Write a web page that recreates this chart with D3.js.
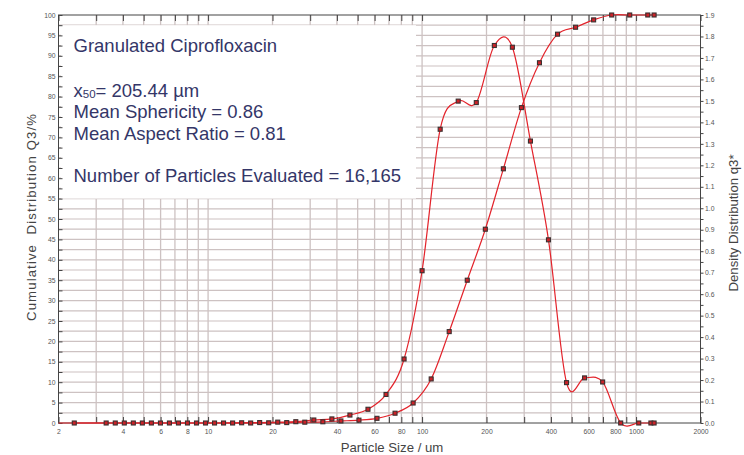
<!DOCTYPE html>
<html><head><meta charset="utf-8">
<script src="https://cdn.jsdelivr.net/npm/d3@7"></script>
<style>
html,body{margin:0;padding:0;background:#fff;}
svg{display:block;font-family:"Liberation Sans",Arial,Helvetica,sans-serif;}
</style></head>
<body>
<svg id="chart" width="744" height="455"></svg>
<script>
// ---- data (sizes in µm) ----
const cumSizes = [2.37, 3.34, 4.06, 4.93, 5.99, 7.27, 8.83, 10.72, 13.02, 15.81, 19.20, 23.31, 28.31, 34.38, 41.75, 50.70, 61.56, 74.76, 90.81, 110.3, 133.9, 162.6, 197.5, 239.8, 291.2, 353.6, 429.5, 521.5, 633.3, 769.1, 933.9, 1134, 1214];
const cumQ3 = [0, 0, 0, 0, 0, 0, 0, 0, 0, 0, 0.05, 0.1, 0.2, 0.3, 0.5, 0.7, 1.15, 2.4, 4.9, 10.8, 22.4, 35.0, 47.5, 62.3, 77.3, 88.3, 95.3, 97.0, 98.8, 100, 100, 100, 100];

const densSizes = [2.0, 3.684, 4.474, 5.433, 6.597, 8.012, 9.728, 11.81, 14.35, 17.42, 21.16, 25.70, 31.20, 37.89, 46.01, 55.87, 67.84, 82.39, 100.0, 121.5, 147.5, 179.2, 217.6, 264.2, 320.9, 389.6, 473.2, 574.6, 697.9, 847.5, 1029, 1173, 1214];
const densQ3 = [0, 0, 0, 0, 0, 0, 0, 0, 0.001, 0.002, 0.004, 0.006, 0.014, 0.019, 0.037, 0.064, 0.133, 0.298, 0.709, 1.368, 1.499, 1.492, 1.758, 1.750, 1.313, 0.853, 0.188, 0.210, 0.191, 0, 0, 0, 0];

const xTickLabels = [2, 4, 6, 8, 10, 20, 40, 60, 80, 100, 200, 400, 600, 800, 1000, 2000];
const xMajorTicks = [2,3,4,5,6,7,8,9,10,20,30,40,50,60,70,80,90,100,200,300,400,500,600,700,800,900,1000,2000];
const leftTicks = [0,5,10,15,20,25,30,35,40,45,50,55,60,65,70,75,80,85,90,95,100];
const leftMinor = [2.5,7.5,12.5,17.5,22.5,27.5,32.5,37.5,42.5,47.5,52.5,57.5,62.5,67.5,72.5,77.5,82.5,87.5,92.5,97.5];
const rightTicks = [0,0.1,0.2,0.3,0.4,0.5,0.6,0.7,0.8,0.9,1.0,1.1,1.2,1.3,1.4,1.5,1.6,1.7,1.8,1.9];
const rightMinor = [0.05,0.15,0.25,0.35,0.45,0.55,0.65,0.75,0.85,0.95,1.05,1.15,1.25,1.35,1.45,1.55,1.65,1.75,1.85];
const hGrid = leftMinor.concat([5,10,15,20,25,30,35,40,45,50,55,60,65,70,75,80,85,90,95]);

const infoTitle = "Granulated Ciprofloxacin";
const infoX50 = "205.44 µm";
const infoLines = ["Mean Sphericity = 0.86", "Mean Aspect Ratio = 0.81"];
const infoCount = "Number of Particles Evaluated = 16,165";

// ---- layout ----
const L = 58.5, R = 700.5, T = 15, B = 423;
const svg = d3.select("#chart");
svg.append("rect").attr("width",744).attr("height",455).attr("fill","#fff");

const x = d3.scaleLog().domain([2, 2000]).range([L, R]);
const yL = d3.scaleLinear().domain([0, 100]).range([B, T]);
const yR = d3.scaleLinear().domain([0, 1.9]).range([B, T]);

const gridColor = "#cdc2c2";
// vertical grid
svg.append("g").selectAll("line").data(xMajorTicks.filter(d => d > 2 && d < 2000)).join("line")
  .attr("x1", d => x(d)).attr("x2", d => x(d)).attr("y1", B).attr("y2", T)
  .attr("stroke", gridColor).attr("stroke-width", 1.3);
// horizontal grid
svg.append("g").selectAll("line").data(hGrid).join("line")
  .attr("x1", L).attr("x2", R).attr("y1", d => yL(d)).attr("y2", d => yL(d))
  .attr("stroke", gridColor).attr("stroke-width", 1.2);

// info box
svg.append("rect").attr("x", L + 2.5).attr("y", yL(97.5)).attr("width", 416 - L - 2.5)
  .attr("height", yL(55) - yL(97.5)).attr("fill", "#fff");

const axisColor = "#444";
function styleAxis(g){
  g.selectAll(".domain").remove();
  g.selectAll(".tick line").attr("stroke", axisColor).attr("stroke-width", 1);
  g.selectAll(".tick text").attr("fill", "#555").style("font-size", "6.8px").style("font-family", '"Liberation Sans",Arial,sans-serif');
}

// bottom labels
svg.append("g").attr("transform", `translate(0,${B})`)
  .call(d3.axisBottom(x).tickValues(xTickLabels).tickFormat(d3.format("d")).tickSize(0).tickPadding(6))
  .call(styleAxis);
// bottom inner ticks
svg.append("g").attr("transform", `translate(0,${B})`)
  .call(d3.axisBottom(x).tickValues(xMajorTicks).tickFormat("").tickSize(-6))
  .call(styleAxis);
// top inner ticks
svg.append("g").attr("transform", `translate(0,${T})`)
  .call(d3.axisTop(x).tickValues(xMajorTicks).tickFormat("").tickSize(-6))
  .call(styleAxis);
// left axis
svg.append("g").attr("transform", `translate(${L},0)`)
  .call(d3.axisLeft(yL).tickValues(leftTicks).tickFormat(d3.format("d")).tickSizeInner(-4).tickSizeOuter(0).tickPadding(3))
  .call(styleAxis);
svg.append("g").attr("transform", `translate(${L},0)`)
  .call(d3.axisLeft(yL).tickValues(leftMinor).tickFormat("").tickSizeInner(-4).tickSizeOuter(0))
  .call(styleAxis);
// right axis
svg.append("g").attr("transform", `translate(${R},0)`)
  .call(d3.axisRight(yR).tickValues(rightTicks).tickFormat(d3.format(".1f")).tickSize(3).tickPadding(1.5))
  .call(styleAxis);
svg.append("g").attr("transform", `translate(${R},0)`)
  .call(d3.axisRight(yR).tickValues(rightMinor).tickFormat("").tickSize(3))
  .call(styleAxis);

// frame
svg.append("rect").attr("x", L).attr("y", T).attr("width", R - L).attr("height", B - T)
  .attr("fill", "none").attr("stroke", axisColor).attr("stroke-width", 1);

// curves
const lineColor = "#e3232b";
const cumData = cumSizes.map((s, i) => [s, cumQ3[i]]);
const densData = densSizes.map((s, i) => [s, densQ3[i]]);
const cumLine = d3.line().x(d => x(d[0])).y(d => yL(d[1])).curve(d3.curveCardinal.tension(0));
const densLine = d3.line().x(d => x(d[0])).y(d => yR(d[1])).curve(d3.curveCardinal.tension(0));
svg.append("path").attr("d", densLine(densData)).attr("fill", "none").attr("stroke", lineColor).attr("stroke-width", 1.2);
svg.append("path").attr("d", cumLine(cumData)).attr("fill", "none").attr("stroke", lineColor).attr("stroke-width", 1.2);

// markers
function markers(data, yScale){
  svg.append("g").selectAll("rect").data(data.filter(d => d[0] > 2)).join("rect")
    .attr("x", d => x(d[0]) - 2).attr("y", d => yScale(d[1]) - 2)
    .attr("width", 4).attr("height", 4)
    .attr("fill", "#cc2228").attr("stroke", "#3a3030").attr("stroke-width", 1.1);
}
markers(densData, yR);
markers(cumData, yL);

// info text
const tc = "#343668";
const info = svg.append("g").attr("fill", tc).style("font-size", "18.5px");
info.append("text").attr("x", 73.5).attr("y", 51.7).text(infoTitle);
const x50 = info.append("text").attr("x", 73.5).attr("y", 96.7);
x50.append("tspan").text("x");
x50.append("tspan").attr("dy", 1.5).style("font-size", "11.5px").text("50");
x50.append("tspan").attr("dy", -1.5).text("= " + infoX50);
infoLines.forEach((t, i) => info.append("text").attr("x", 73.5).attr("y", 118.4 + i * 21.7).text(t));
info.append("text").attr("x", 73.5).attr("y", 181.7).text(infoCount);

// axis titles
svg.append("text").attr("transform", `translate(36,217.5) rotate(-90)`).attr("text-anchor", "middle")
  .attr("fill", "#444").style("font-size", "13.2px").style("white-space", "pre")
  .attr("textLength", 207).attr("lengthAdjust", "spacing")
  .text("Cumulative  Distribution Q3/%");
svg.append("text").attr("transform", `translate(738,223) rotate(-90)`).attr("text-anchor", "middle")
  .attr("fill", "#444").style("font-size", "13.2px")
  .text("Density Distribution q3*");
svg.append("text").attr("x", 392).attr("y", 451.5).attr("text-anchor", "middle")
  .attr("fill", "#444").style("font-size", "13.2px")
  .text("Particle Size / um");
</script>
</body></html>
